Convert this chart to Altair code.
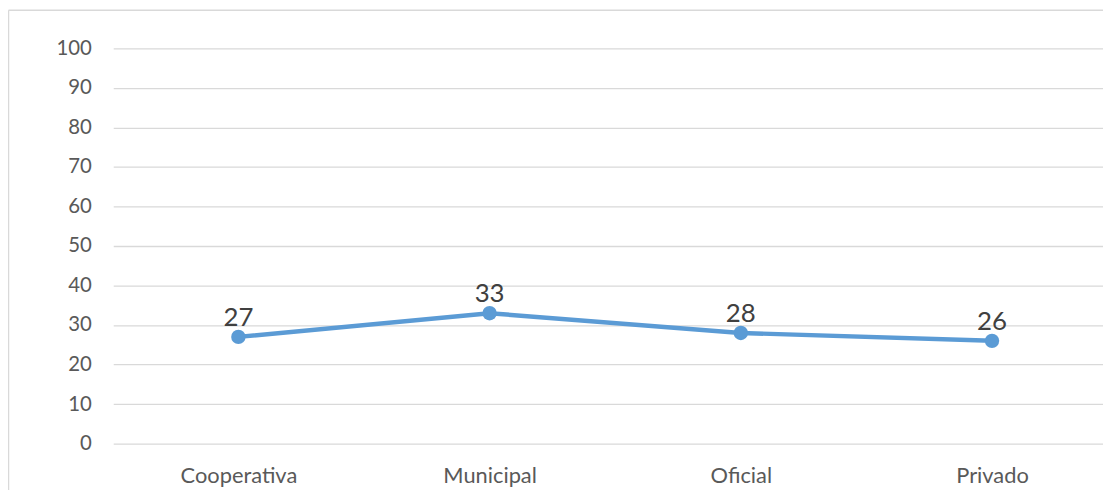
import altair as alt
import pandas as pd

categories = ["Cooperativa", "Municipal", "Oficial", "Privado"]
values = [27, 33, 28, 26]

df = pd.DataFrame({"cat": categories, "val": values})

FONT = "Lato"
BLUE = "#5B9BD5"

x_enc = alt.X("cat:N", sort=categories, title=None,
              scale=alt.Scale(type="point", padding=0.47, align=0.53),
              axis=alt.Axis(labelAngle=0, labelFontSize=22, labelColor="#595959",
                            labelFont=FONT, domain=False, ticks=False, labelPadding=22,
                            grid=False))
y_enc = alt.Y("val:Q", title=None,
              scale=alt.Scale(domain=[0, 100], nice=False),
              axis=alt.Axis(values=list(range(0, 101, 10)), labelFontSize=20.5,
                            labelColor="#595959", labelFont=FONT, domain=False,
                            ticks=False, labelPadding=22, gridColor="#D9D9D9",
                            gridWidth=1.3))

base = alt.Chart(df)

line = base.mark_line(color=BLUE, strokeWidth=4.5).encode(x=x_enc, y=y_enc)
pts = base.mark_point(color=BLUE, filled=True, opacity=1, size=210).encode(x=x_enc, y=y_enc)
labels = base.mark_text(fontSize=26, font=FONT, color="#404040", baseline="bottom", dy=-6).encode(
    x=x_enc, y=y_enc, text=alt.Text("val:Q"))

border = pd.DataFrame({"k": [0]})
left_border = alt.Chart(border).mark_rule(color="#D9D9D9", strokeWidth=1.5).encode(
    x=alt.value(-105.5), y=alt.value(-38.5), y2=alt.value(460))
top_border = alt.Chart(border).mark_rule(color="#D9D9D9", strokeWidth=1.5).encode(
    x=alt.value(-105.5), x2=alt.value(1000), y=alt.value(-38.5))

chart = alt.layer(left_border, top_border, line, pts, labels).properties(
    width=997, height=398,
    autosize=alt.AutoSizeParams(type="none"),
    padding={"left": 106, "top": 39, "right": 0, "bottom": 45},
    background="white",
).configure_view(stroke=None)

chart.save("out.html", embed_options={"renderer": "svg", "actions": False})
